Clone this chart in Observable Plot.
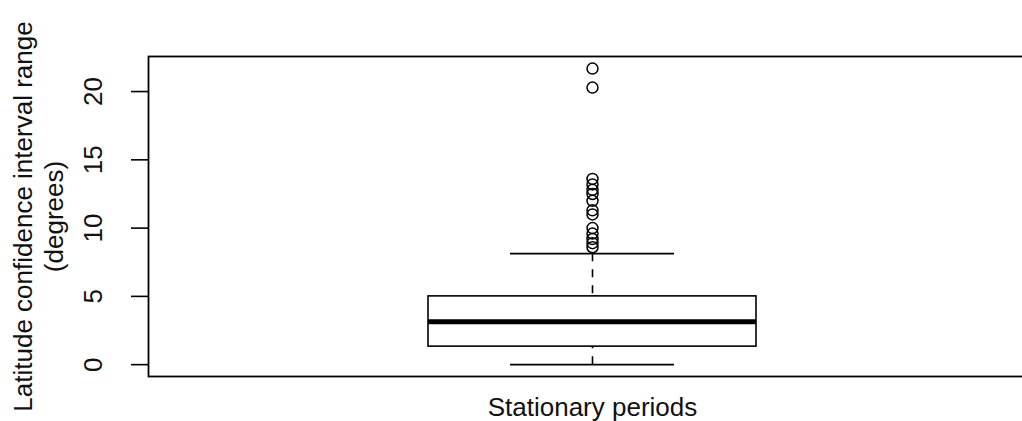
<!DOCTYPE html>
<html><head><meta charset="utf-8">
<script src="https://cdn.jsdelivr.net/npm/d3@7"></script>
<script src="https://cdn.jsdelivr.net/npm/@observablehq/plot@0.6"></script>
<style>html,body{margin:0;padding:0;background:#fff;overflow:hidden}</style>
</head><body><div id="chart"></div>
<script>
const categories = ["Stationary periods"];
const lowerWhisker = [0];
const q1 = [1.32];
const median = [3.15];
const q3 = [5.0];
const upperWhisker = [8.13];
const outliers = [21.68, 20.29, 13.6, 13.2, 12.8, 12.5, 12.0, 11.3, 11.0, 10.0, 9.6, 9.2, 8.9, 8.6];
const yTicks = [0, 5, 10, 15, 20];
const yLabel = "Latitude confidence interval range\n(degrees)";
const xLabel = "Stationary periods";
const yDomain = [-0.868, 22.568];

const boxes = categories.map((c, i) => ({cat: c, lo: lowerWhisker[i], q1: q1[i], med: median[i], q3: q3[i], hi: upperWhisker[i]}));
const outPts = outliers.map(v => ({cat: categories[0], v}));
const font = "Liberation Sans, Arial, sans-serif";

const chart = Plot.plot({
  width: 1022, height: 421,
  marginLeft: 148, marginRight: -14, marginTop: 56, marginBottom: 45,
  style: {fontFamily: font, fontSize: "26px", overflow: "hidden", background: "#fff", color: "#000"},
  x: {type: "band", domain: categories, paddingInner: 0, paddingOuter: 0.85, axis: null},
  y: {domain: yDomain, axis: null},
  marks: [
    Plot.ruleX(boxes, {x: "cat", y1: "lo", y2: "q1", stroke: "#000", strokeDasharray: "8,8", strokeWidth: 1.6}),
    Plot.ruleX(boxes, {x: "cat", y1: "hi", y2: "q3", stroke: "#000", strokeDasharray: "8,8", strokeWidth: 1.6}),
    Plot.tickY(boxes, {x: "cat", y: "lo", insetLeft: 82, insetRight: 82, stroke: "#000", strokeWidth: 1.6}),
    Plot.tickY(boxes, {x: "cat", y: "hi", insetLeft: 82, insetRight: 82, stroke: "#000", strokeWidth: 1.6}),
    Plot.barY(boxes, {x: "cat", y1: "q1", y2: "q3", fill: "#fff", stroke: "#000", strokeWidth: 1.6}),
    Plot.tickY(boxes, {x: "cat", y: "med", stroke: "#000", strokeWidth: 5}),
    Plot.dot(outPts, {x: "cat", y: "v", r: 5.5, stroke: "#000", strokeWidth: 1.5, fill: "none"}),
    Plot.axisY({ticks: yTicks, tickSize: 17, tickFormat: () => "", stroke: "#000", strokeWidth: 1.6}),
    Plot.text(yTicks, {y: d => d, text: d => String(d), frameAnchor: "left", dx: -47, rotate: -90, textAnchor: "middle", lineAnchor: "bottom", fontSize: 26, fill: "#111"}),
    Plot.text([yLabel], {text: d => d, frameAnchor: "left", dx: -86, rotate: -90, textAnchor: "middle", lineAnchor: "bottom", lineHeight: 1.19, fontSize: 26, fill: "#111"}),
    Plot.text([xLabel], {text: d => d, frameAnchor: "bottom", dy: 39, lineAnchor: "bottom", fontSize: 26, fill: "#111"}),
    Plot.frame({stroke: "#000", strokeWidth: 1.8})
  ]
});
document.getElementById("chart").appendChild(chart);
</script>
</body></html>
